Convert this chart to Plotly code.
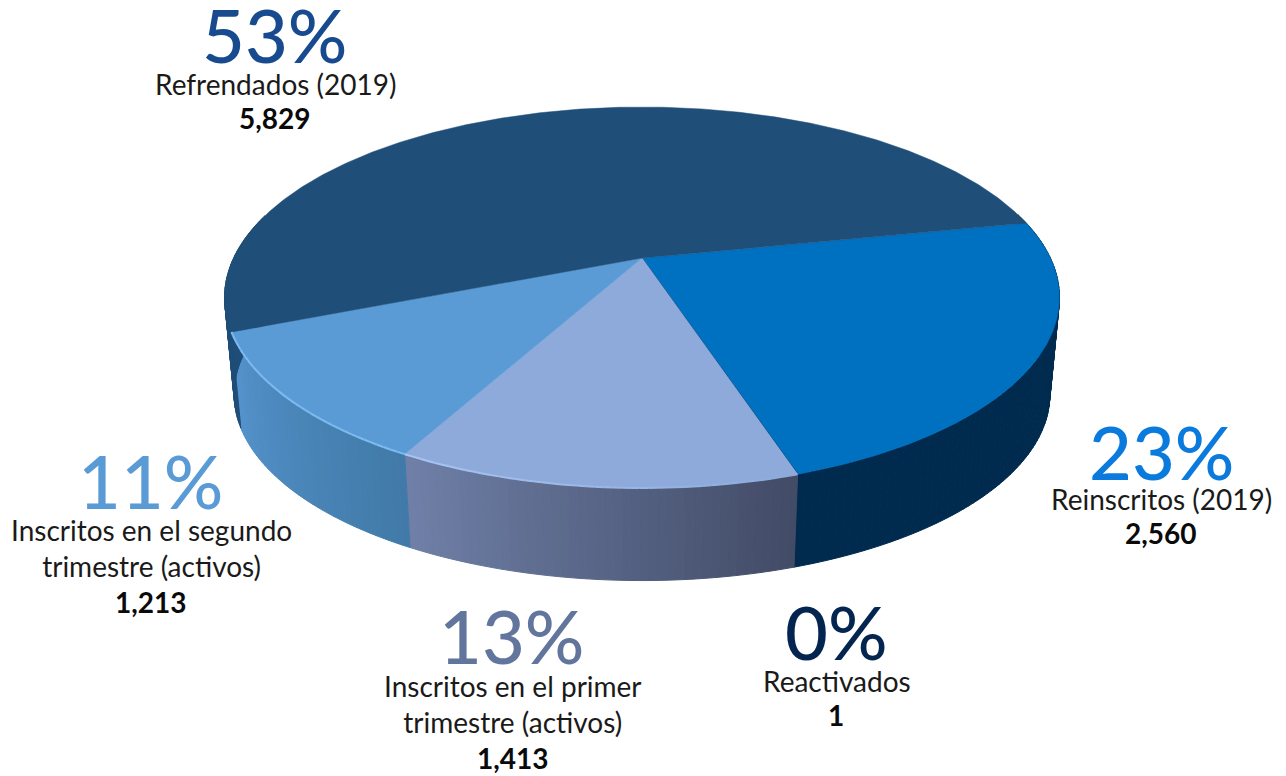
import numpy as np
import plotly.graph_objects as go

# clockwise from the top right edge of the pie
labels = ["Reinscritos (2019)", "Reactivados", "Inscritos en el primer<br>trimestre (activos)",
          "Inscritos en el segundo<br>trimestre (activos)", "Refrendados (2019)"]
values = [2560, 1, 1413, 1213, 5829]
percent_text = ["23%", "0%", "13%", "11%", "53%"]

top_colors = ["#0070c0", "#002b4f", "#8eaadb", "#5b9bd5", "#1f4e79"]
percent_colors = ["#0a7bdc", "#03254f", "#62759c", "#5b9bd5", "#174a8e"]
# wall shading, start and end of each slice
wall_from = ["#002b4f", "#002b4f", "#414b66", "#417aa8", "#1f4e79"]
wall_to = ["#002b4f", "#002b4f", "#7080a8", "#5493cc", "#17426b"]
# light rim along the top edge, start and end of each slice
rim_from = [None, None, "#8eaadb", "#7dbcf2", None]
rim_to = [None, None, "#a8c6f2", "#7dbcf2", None]

# label block positions: percent centre, text centre, line centres
percent_pos = [(1161, 451), (836, 631), (511, 635), (150, 480), (274, 34)]
label_pos = [(1161, 499), (837, 681), (513, 704), (151, 548), (275, 84)]
value_pos = [(1161, 533), (836, 715), (513, 758), (151, 602), (275, 118)]

FONT = "Lato"
START_ANGLE = 11.5  # degrees, maths convention
CX, APEX_Y = 642.0, 258.0
PERSP, Y_GAIN, X_GAIN = 0.2073, -128.8, 408.4
ELLIPSE_Y, WALL_SCALE, WALL_Y = 297.0, 0.977, 394.0


def rim(deg):
    """Top edge of the tilted disc, with perspective."""
    t = np.radians(deg)
    u, v = np.cos(t), np.sin(t)
    w = 1 + PERSP * v
    return CX + X_GAIN * u / w, (APEX_Y + Y_GAIN * v) / w


def floor(deg):
    x, y = rim(deg)
    return CX + WALL_SCALE * (x - CX), WALL_Y + WALL_SCALE * (y - ELLIPSE_Y)


def mix(c1, c2, f):
    a = [int(c1[i:i + 2], 16) for i in (1, 3, 5)]
    b = [int(c2[i:i + 2], 16) for i in (1, 3, 5)]
    return "rgb(%d,%d,%d)" % tuple(round(p + (q - p) * f) for p, q in zip(a, b))


total = sum(values)
spans = [360.0 * v / total for v in values]
starts = START_ANGLE - np.concatenate([[0.0], np.cumsum(spans)[:-1]])

fig = go.Figure()

# 1. Walls, only the part that faces the viewer
for start, span, c1, c2 in zip(starts, spans, wall_from, wall_to):
    n = max(1, int(span))
    edges = np.linspace(start, start - span, n + 1)
    for i in range(n):
        a, b = edges[i], edges[i + 1]
        if np.sin(np.radians((a + b) / 2)) > 0.25:
            continue
        xa, ya = rim(a)
        xb, yb = rim(b)
        xc, yc = floor(b)
        xd, yd = floor(a)
        col = mix(c1, c2, (i + 0.5) / n)
        fig.add_trace(go.Scatter(
            x=[xa, xb, xc, xd, xa], y=[ya, yb, yc, yd, ya],
            mode="lines", fill="toself", fillcolor=col,
            line=dict(color=col, width=1),
            hoverinfo="skip", showlegend=False,
        ))

# 2. Top of the pie
for name, value, start, span, col in zip(labels, values, starts, spans, top_colors):
    angles = np.linspace(start, start - span, max(2, int(span * 2)))
    xs, ys = rim(angles)
    fig.add_trace(go.Scatter(
        x=[CX, *xs, CX], y=[APEX_Y, *ys, APEX_Y],
        mode="lines", fill="toself", fillcolor=col,
        line=dict(color=col, width=0.5),
        name=name.replace("<br>", " "), text=f"{value:,}",
        hoverinfo="name+text", showlegend=False,
    ))

# 3. Rim highlight
for start, span, c1, c2 in zip(starts, spans, rim_from, rim_to):
    if c1 is None:
        continue
    n = int(span)
    edges = np.linspace(start, start - span, n + 1)
    for i in range(n):
        xs, ys = rim(edges[i:i + 2])
        fig.add_trace(go.Scatter(
            x=xs, y=ys, mode="lines",
            line=dict(color=mix(c1, c2, (i + 0.5) / n), width=2),
            hoverinfo="skip", showlegend=False,
        ))

# 4. Texts
for i in range(len(labels)):
    fig.add_annotation(x=percent_pos[i][0], y=percent_pos[i][1], text=percent_text[i], showarrow=False,
                       font=dict(family=FONT, size=74, color=percent_colors[i], weight=500))
    fig.add_annotation(x=label_pos[i][0], y=label_pos[i][1], text=labels[i], showarrow=False,
                       font=dict(family=FONT, size=28, color="#1a1a1a", weight=400))
    fig.add_annotation(x=value_pos[i][0], y=value_pos[i][1], text=f"{values[i]:,}", showarrow=False,
                       font=dict(family=FONT, size=28, color="#0a0a0a", weight=700))

fig.update_layout(
    width=1286, height=776,
    margin=dict(l=0, r=0, t=0, b=0),
    paper_bgcolor="white", plot_bgcolor="white",
    xaxis=dict(range=[0, 1286], visible=False, fixedrange=True),
    yaxis=dict(range=[776, 0], visible=False, fixedrange=True),
)

fig.write_html("out.html", config={"displayModeBar": False},
               post_script="document.body.style.margin='0';")
